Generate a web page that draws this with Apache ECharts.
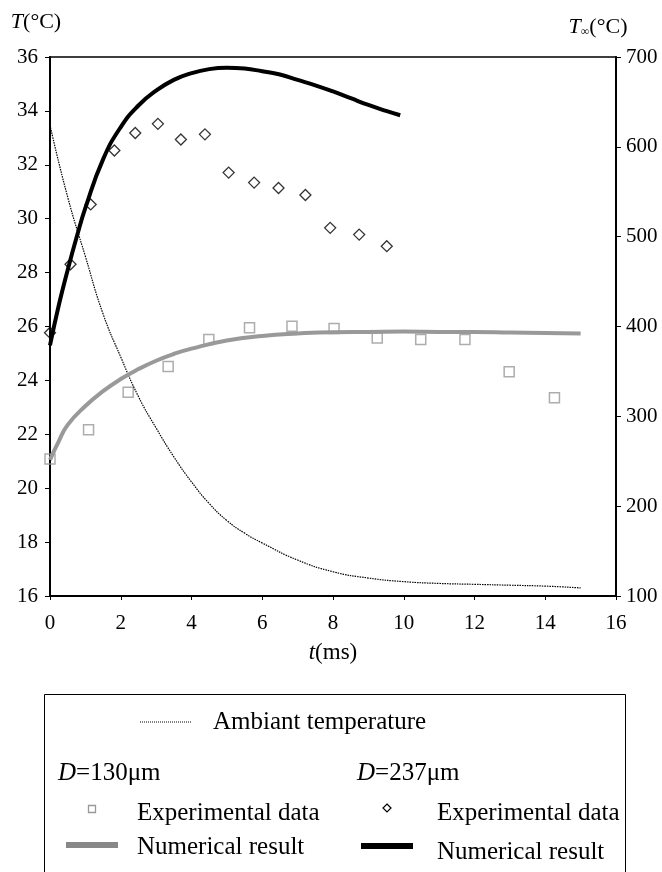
<!DOCTYPE html>
<html>
<head>
<meta charset="utf-8">
<script src="https://cdn.jsdelivr.net/npm/echarts@6/dist/echarts.min.js"></script>
<style>
  html, body { margin: 0; padding: 0; background: #fff; }
  #chart { width: 662px; height: 872px; }
</style>
</head>
<body>
<div id="chart"></div>
<script>
// time axis ticks (ms)
var xTicks = [0, 2, 4, 6, 8, 10, 12, 14, 16];

// D=130um experimental (squares)
var sqT = [0, 1.09, 2.21, 3.34, 4.49, 5.64, 6.84, 8.03, 9.25, 10.48, 11.73, 12.98, 14.26];
var sqV = [21.08, 22.17, 23.56, 24.52, 25.52, 25.95, 26.01, 25.93, 25.57, 25.52, 25.52, 24.32, 23.36];

// D=237um experimental (diamonds)
var diT = [0, 0.58, 1.15, 1.82, 2.41, 3.05, 3.70, 4.38, 5.05, 5.77, 6.46, 7.22, 7.92, 8.74, 9.52];
var diV = [25.77, 28.31, 30.53, 32.53, 33.18, 33.52, 32.94, 33.13, 31.71, 31.34, 31.14, 30.88, 29.66, 29.41, 28.98];

// D=130um numerical
var grT = [0, 0.25, 0.5, 1, 1.5, 2, 2.5, 3, 3.5, 4, 5, 6, 7, 8, 9, 10, 11, 12, 13, 14, 15];
var grV = [21.05, 21.75, 22.35, 23.05, 23.6, 24.05, 24.42, 24.73, 24.98, 25.18, 25.48, 25.65, 25.74, 25.79, 25.8, 25.81, 25.8, 25.8, 25.78, 25.76, 25.74];

// D=237um numerical
var bkT = [0, 0.25, 0.5, 0.75, 1, 1.5, 2, 2.5, 3, 3.5, 4, 4.5, 5, 5.5, 6, 6.5, 7, 7.5, 8, 8.5, 9, 9.5, 9.9];
var bkV = [25.3, 26.8, 28.1, 29.3, 30.4, 32.2, 33.4, 34.2, 34.75, 35.15, 35.4, 35.55, 35.6, 35.57, 35.47, 35.35, 35.15, 34.95, 34.72, 34.47, 34.22, 34.0, 33.84];

// ambient temperature (right axis)
var amT = [0, 0.5, 1, 1.5, 2, 2.5, 3, 3.5, 4, 4.5, 5, 5.5, 6, 7, 8, 9, 10, 11, 12, 13, 14, 15];
var amV = [624, 544, 478, 414, 366, 322, 287, 255, 227, 203, 184, 170, 159, 140, 127, 120, 116, 114, 113, 112, 111, 109];

function pairs(a, b) {
    var out = [];
    for (var i = 0; i < a.length; i++) out.push([a[i], b[i]]);
    return out;
}

var serif = 'Liberation Serif';
var txt = { fontFamily: serif, fontSize: 21, color: '#000' };
var legFont = '25px "Liberation Serif"';

var option = {
    animation: false,
    backgroundColor: '#fff',
    grid: { left: 50, right: 46, top: 57, bottom: 276, show: true, borderColor: '#000', borderWidth: 1.5 },
    xAxis: {
        type: 'value', min: 0, max: 16, interval: 2,
        name: '{i|t}(ms)', nameLocation: 'middle', nameGap: 45,
        nameTextStyle: { fontFamily: serif, fontSize: 23, color: '#000', rich: { i: { fontFamily: serif, fontStyle: 'italic', fontSize: 23 } } },
        axisLine: { lineStyle: { color: '#000', width: 2 } },
        axisTick: { show: true, length: 4, lineStyle: { color: '#000' } },
        axisLabel: Object.assign({ margin: 17 }, txt),
        splitLine: { show: false }
    },
    yAxis: [{
        type: 'value', min: 16, max: 36, interval: 2,
        name: '{i|T}(°C)', nameGap: 24,
        nameTextStyle: { fontFamily: serif, fontSize: 22, color: '#000', align: 'center', padding: [0, 28, 0, 0],
            rich: { i: { fontFamily: serif, fontStyle: 'italic', fontSize: 22 } } },
        axisLine: { show: true, lineStyle: { color: '#000', width: 2 } },
        axisTick: { show: true, length: 5, lineStyle: { color: '#000' } },
        axisLabel: Object.assign({ margin: 12 }, txt),
        splitLine: { show: false }
    }, {
        type: 'value', min: 100, max: 700, interval: 100, position: 'right',
        name: '{i|T}{s|∞}(°C)', nameGap: 19,
        nameTextStyle: { fontFamily: serif, fontSize: 22, color: '#000', align: 'center', padding: [0, 36, 0, 0],
            rich: { i: { fontFamily: serif, fontStyle: 'italic', fontSize: 22 }, s: { fontFamily: serif, fontSize: 12, padding: [10, 0, 0, 0] } } },
        axisLine: { show: true, lineStyle: { color: '#000', width: 2 } },
        axisTick: { show: true, length: 5, lineStyle: { color: '#000' } },
        axisLabel: Object.assign({ margin: 10 }, txt),
        splitLine: { show: false }
    }],
    series: [{
        name: 'Ambiant temperature', type: 'line', yAxisIndex: 1, smooth: true, showSymbol: false,
        lineStyle: { color: '#000', width: 1.2, type: [1.5, 1] },
        data: pairs(amT, amV)
    }, {
        name: 'num130', type: 'line', smooth: true, showSymbol: false,
        lineStyle: { color: '#999', width: 4 },
        data: pairs(grT, grV)
    }, {
        name: 'num237', type: 'line', smooth: true, showSymbol: false,
        lineStyle: { color: '#000', width: 4 },
        data: pairs(bkT, bkV)
    }, {
        name: 'exp130', type: 'scatter', symbol: 'rect', symbolSize: 10,
        itemStyle: { color: 'rgba(0,0,0,0)', borderColor: '#999', borderWidth: 1.5 },
        data: pairs(sqT, sqV)
    }, {
        name: 'exp237', type: 'scatter', symbol: 'diamond', symbolSize: [11, 11],
        itemStyle: { color: 'rgba(0,0,0,0)', borderColor: '#000', borderWidth: 1.3 },
        data: pairs(diT, diV)
    }],
    graphic: [
        { type: 'rect', shape: { x: 44.5, y: 694.5, width: 581, height: 180 }, style: { fill: 'none', stroke: '#000', lineWidth: 1 } },
        { type: 'line', shape: { x1: 140, y1: 722, x2: 192, y2: 722 }, style: { stroke: '#000', lineWidth: 1, lineDash: [1, 1] } },
        { type: 'text', x: 213, y: 722, style: { text: 'Ambiant temperature', font: legFont, fill: '#000', textVerticalAlign: 'middle' } },
        { type: 'text', x: 58, y: 773, style: { text: '{i|D}=130μm', font: legFont, fill: '#000', textVerticalAlign: 'middle',
            rich: { i: { fontStyle: 'italic', fontFamily: serif, fontSize: 25 } } } },
        { type: 'text', x: 357, y: 773, style: { text: '{i|D}=237μm', font: legFont, fill: '#000', textVerticalAlign: 'middle',
            rich: { i: { fontStyle: 'italic', fontFamily: serif, fontSize: 25 } } } },
        { type: 'rect', shape: { x: 88.5, y: 805.5, width: 7, height: 7 }, style: { fill: 'none', stroke: '#999', lineWidth: 1.3 } },
        { type: 'text', x: 137, y: 813, style: { text: 'Experimental data', font: legFont, fill: '#000', textVerticalAlign: 'middle' } },
        { type: 'polygon', shape: { points: [[387, 804], [391, 808], [387, 812], [383, 808]] }, style: { fill: 'none', stroke: '#000', lineWidth: 1.2 } },
        { type: 'text', x: 437, y: 813, style: { text: 'Experimental data', font: legFont, fill: '#000', textVerticalAlign: 'middle' } },
        { type: 'line', shape: { x1: 66, y1: 845, x2: 118, y2: 845 }, style: { stroke: '#888', lineWidth: 6 } },
        { type: 'text', x: 137, y: 847, style: { text: 'Numerical result', font: legFont, fill: '#000', textVerticalAlign: 'middle' } },
        { type: 'line', shape: { x1: 361, y1: 846, x2: 413, y2: 846 }, style: { stroke: '#000', lineWidth: 6 } },
        { type: 'text', x: 437, y: 852, style: { text: 'Numerical result', font: legFont, fill: '#000', textVerticalAlign: 'middle' } }
    ]
};

var myChart = echarts.init(document.getElementById('chart'));
myChart.setOption(option);
</script>
</body>
</html>
